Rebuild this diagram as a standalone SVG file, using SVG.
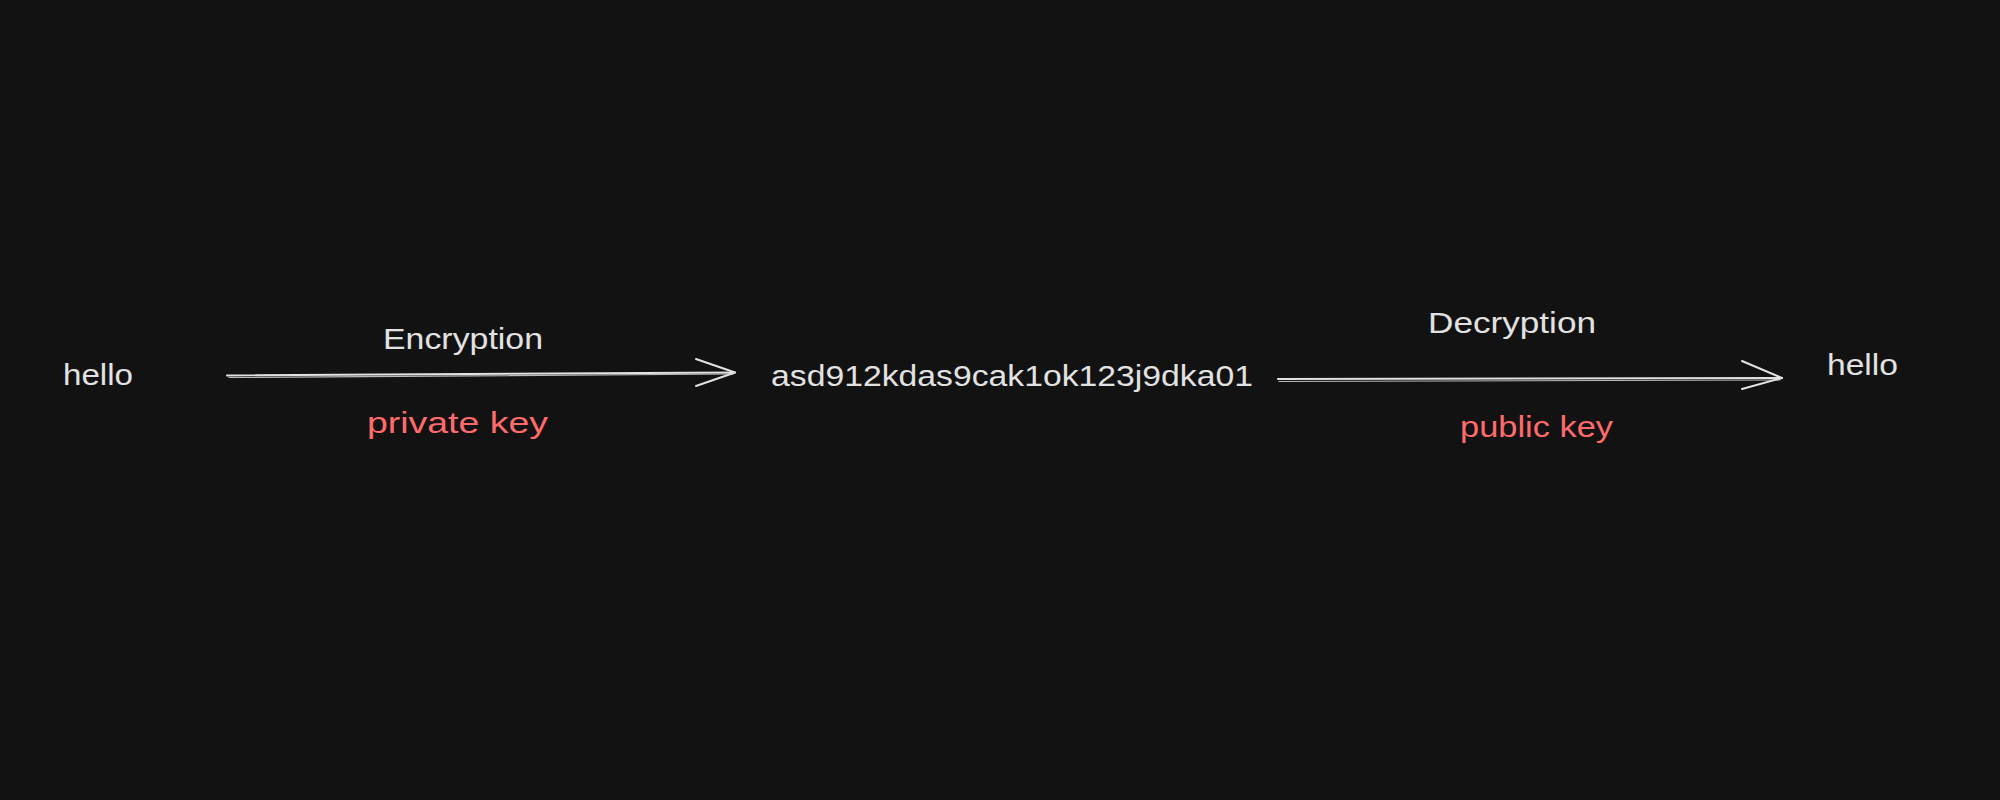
<svg xmlns="http://www.w3.org/2000/svg" width="2000" height="800" viewBox="0 0 2000 800">
  <style>
    .t { font-family: "Liberation Sans", "DejaVu Sans", sans-serif; font-size: 30px; fill: #e2e2e2; }
    .k { fill: #ff6b6b; }
    .ln { fill: none; stroke: #e2e2e2; stroke-width: 2; stroke-linecap: round; stroke-linejoin: round; }
    .ln2 { fill: none; stroke: #e2e2e2; stroke-width: 1.2; stroke-linecap: round; opacity: 0.8; }
  </style>
  <rect x="0" y="0" width="2000" height="800" fill="#121212"/>

  <g id="connectors">
    <g id="arrow-encrypt">
      <path class="ln" d="M227 375.5 L735 372.5"/>
      <path class="ln2" d="M229 377.5 L733 374"/>
      <path class="ln" d="M696 359 L735 372.5 L696 386"/>
    </g>
    <g id="arrow-decrypt">
      <path class="ln" d="M1278 379 L1782 378"/>
      <path class="ln2" d="M1279 381.5 L1780 380"/>
      <path class="ln" d="M1742 361 L1782 378 L1742 389"/>
    </g>
  </g>

  <g id="node-hello-plain">
    <text class="t" x="63" y="385" textLength="70" lengthAdjust="spacingAndGlyphs">hello</text>
  </g>
  <g id="label-encryption">
    <text class="t" x="383" y="349" textLength="160" lengthAdjust="spacingAndGlyphs">Encryption</text>
  </g>
  <g id="label-private-key">
    <text class="t k" x="367" y="433" textLength="181" lengthAdjust="spacingAndGlyphs">private key</text>
  </g>
  <g id="node-ciphertext">
    <text class="t" x="771" y="386" textLength="482" lengthAdjust="spacingAndGlyphs">asd912kdas9cak1ok123j9dka01</text>
  </g>
  <g id="label-decryption">
    <text class="t" x="1428" y="333" textLength="168" lengthAdjust="spacingAndGlyphs">Decryption</text>
  </g>
  <g id="label-public-key">
    <text class="t k" x="1460" y="437" textLength="153" lengthAdjust="spacingAndGlyphs">public key</text>
  </g>
  <g id="node-hello-decrypted">
    <text class="t" x="1827" y="375" textLength="71" lengthAdjust="spacingAndGlyphs">hello</text>
  </g>
</svg>
